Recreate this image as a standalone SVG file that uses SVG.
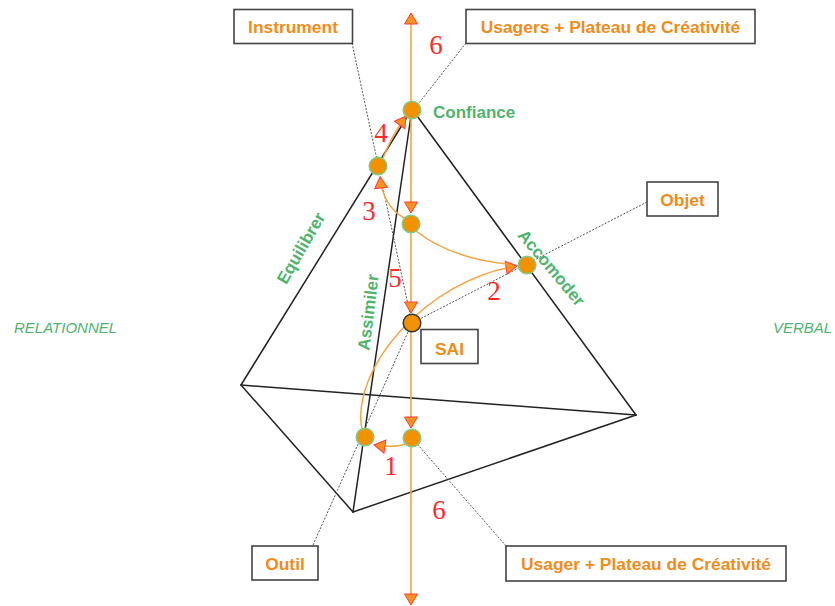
<svg xmlns="http://www.w3.org/2000/svg" width="835" height="606" viewBox="0 0 835 606">
  <style>
    .edge { stroke: #222; stroke-width: 1.5; fill: none; stroke-linecap: round; }
    .dot { stroke: #555; stroke-width: 1; stroke-dasharray: 2 1.5; fill: none; }
    .flow { stroke: #f6a445; stroke-width: 1.5; fill: none; }
    .axis { stroke: #f6a445; stroke-width: 1.6; fill: none; }
    .pt { fill: #f39200; stroke: #79cd92; stroke-width: 1.5; }
    .pt-sai { fill: #f39200; stroke: #333; stroke-width: 1.5; }
    .box { fill: #fff; stroke: #444; stroke-width: 1.6; }
    .blabel { font-family: "Liberation Sans", Arial, sans-serif; font-weight: bold; font-size: 17.4px; fill: #f08c1a; text-anchor: middle; }
    .glabel { font-family: "Liberation Sans", Arial, sans-serif; font-weight: bold; font-size: 17px; fill: #50b46e; }
    .side { font-family: "Liberation Sans", Arial, sans-serif; font-style: italic; font-size: 15px; fill: #50b46e; }
    .num { font-family: "Liberation Serif", "Times New Roman", serif; font-size: 27px; fill: #ff2a2a; text-anchor: middle; }
  </style>
  <defs>
    <marker id="head" markerUnits="userSpaceOnUse" markerWidth="14" markerHeight="15" refX="11" refY="6.5" orient="auto" overflow="visible">
      <path d="M0,0 L11,6.5 L0,13 z" fill="#f7941d" stroke="#ff3b3b" stroke-width="1"/>
    </marker>
  </defs>

  <!-- tetrahedron edges -->
  <g id="tetrahedron">
    <line class="edge" x1="412" y1="109" x2="241" y2="385"/>
    <line class="edge" x1="412" y1="109" x2="636" y2="415"/>
    <line class="edge" x1="412" y1="109" x2="353" y2="512"/>
    <line class="edge" x1="241" y1="385" x2="353" y2="512"/>
    <line class="edge" x1="241" y1="385" x2="636" y2="415"/>
    <line class="edge" x1="353" y1="512" x2="636" y2="415"/>
  </g>

  <!-- connectors -->
  <g id="connectors">
    <!-- dotted leaders from the label boxes -->
    <path class="dot" d="M352,43 L410,314"/>
    <path class="dot" d="M466,43 L419,103"/>
    <path class="dot" d="M647,202 L412,323"/>
    <path class="dot" d="M313,545 L412,323"/>
    <path class="dot" d="M506,546 L412,438"/>

    <!-- numbered flows -->
    <path class="flow" d="M405,444 Q395,448 374,445" marker-end="url(#head)"/>
    <path class="flow" d="M362,430 C350,370 425,280 517,266" marker-end="url(#head)"/>
    <path class="flow" d="M416,231 Q450,258 507,264"/>
    <path class="flow" d="M404,218 Q383,206 380,177" marker-end="url(#head)"/>
    <path class="flow" d="M383,158 Q391,137 406,116" marker-end="url(#head)"/>

    <!-- vertical axis -->
    <path class="axis" d="M411,110 L411,13" marker-end="url(#head)"/>
    <path class="axis" d="M411,110 L411,213" marker-end="url(#head)"/>
    <path class="axis" d="M411,224 L411,313" marker-end="url(#head)"/>
    <path class="axis" d="M411,323 L411,428" marker-end="url(#head)"/>
    <path class="axis" d="M411,437 L411,605" marker-end="url(#head)"/>
  </g>

  <!-- points -->
  <g id="n-confiance"><circle class="pt" cx="412" cy="110" r="8.8"/>
    <text class="glabel" x="433" y="118">Confiance</text></g>
  <g id="n-equilibrer-pt"><circle class="pt" cx="378" cy="166" r="8.8"/></g>
  <g id="n-mid"><circle class="pt" cx="411" cy="224" r="8.8"/></g>
  <g id="n-accomoder-pt"><circle class="pt" cx="527" cy="265" r="8.8"/></g>
  <g id="n-sai-pt"><circle class="pt-sai" cx="412" cy="323" r="8.8"/></g>
  <g id="n-outil-pt"><circle class="pt" cx="365" cy="437" r="8.8"/></g>
  <g id="n-usager-pt"><circle class="pt" cx="412" cy="438" r="8.8"/></g>

  <!-- edge labels -->
  <g id="l-equilibrer"><text class="glabel" text-anchor="middle" x="306" y="251" font-size="16" transform="rotate(-60 306 251)">Equilibrer</text></g>
  <g id="l-assimiler"><text class="glabel" text-anchor="middle" x="374" y="313" font-size="16.5" transform="rotate(-83 374 313)">Assimiler</text></g>
  <g id="l-accomoder"><text class="glabel" text-anchor="middle" x="547" y="271.5" transform="rotate(50 547 271.5)">Accomoder</text></g>

  <!-- side captions -->
  <g id="l-relationnel"><text class="side" x="14" y="333">RELATIONNEL</text></g>
  <g id="l-verbal"><text class="side" x="773" y="333">VERBAL</text></g>

  <!-- label boxes -->
  <g id="b-instrument"><rect class="box" x="234" y="9.5" width="118.5" height="34"/>
    <text class="blabel" x="293" y="33">Instrument</text></g>
  <g id="b-usagers"><rect class="box" x="466" y="9.5" width="289" height="34"/>
    <text class="blabel" x="610.5" y="33">Usagers + Plateau de Créativité</text></g>
  <g id="b-objet"><rect class="box" x="647" y="182" width="71" height="34"/>
    <text class="blabel" x="682.5" y="205.5">Objet</text></g>
  <g id="b-sai"><rect class="box" x="421" y="329.5" width="57" height="34"/>
    <text class="blabel" x="449.5" y="354.5">SAI</text></g>
  <g id="b-outil"><rect class="box" x="252" y="546" width="66" height="34"/>
    <text class="blabel" x="285" y="569.5">Outil</text></g>
  <g id="b-usager"><rect class="box" x="506" y="546" width="280" height="35"/>
    <text class="blabel" x="646" y="570">Usager + Plateau de Créativité</text></g>

  <!-- step numbers -->
  <g id="steps">
    <text class="num" x="436" y="54">6</text>
    <text class="num" x="381" y="141.5">4</text>
    <text class="num" x="369" y="220">3</text>
    <text class="num" x="395" y="287">5</text>
    <text class="num" x="494" y="299.5">2</text>
    <text class="num" x="391" y="475">1</text>
    <text class="num" x="439" y="519">6</text>
  </g>
</svg>
